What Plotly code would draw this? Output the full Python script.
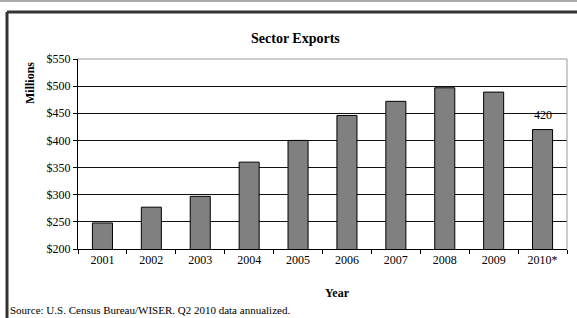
import plotly.graph_objects as go

years = ["2001", "2002", "2003", "2004", "2005", "2006", "2007", "2008", "2009", "2010*"]
exports = [248, 277, 297, 360, 400, 446, 472, 497, 489, 420]
y_ticks = [200, 250, 300, 350, 400, 450, 500, 550]
y_tick_labels = ["$200", "$250", "$300", "$350", "$400", "$450", "$500", "$550"]

W, H = 577, 318
L, R, T, B = 78, 10, 59, 69
pw, ph = W - L - R, H - T - B

def px(x):
    return (x - L) / pw

def py(y):
    return (H - B - y) / ph

FONT = "Liberation Serif, Times New Roman, serif"

fig = go.Figure()
fig.add_trace(go.Bar(
    x=years, y=exports,
    marker=dict(color="#808080", line=dict(color="#000000", width=1)),
    width=0.41,
    hoverinfo="x+y",
))

fig.update_layout(
    width=W, height=H,
    margin=dict(l=L, r=R, t=T, b=B),
    paper_bgcolor="white", plot_bgcolor="white",
    font=dict(family=FONT, size=12, color="#000"),
    showlegend=False,
    bargap=0.59,
    xaxis=dict(
        type="category",
        showgrid=False,
        showline=True, linecolor="#000", linewidth=1,
        ticks="outside", tickson="boundaries", ticklen=4, tickcolor="#000",
        tickfont=dict(family=FONT, size=12),
    ),
    yaxis=dict(
        range=[200, 550],
        tickvals=y_ticks, ticktext=y_tick_labels,
        showgrid=True, gridcolor="#111", gridwidth=1,
        showline=True, linecolor="#000", linewidth=1,
        ticks="outside", ticklen=4, tickcolor="#000",
        tickfont=dict(family=FONT, size=12),
        zeroline=False,
    ),
    shapes=[
        dict(type="line", xref="paper", yref="paper", x0=px(0), x1=px(W), y0=py(1), y1=py(1),
             line=dict(color="#aaaaaa", width=2)),
        dict(type="line", xref="paper", yref="paper", x0=px(7), x1=px(W), y0=py(12), y1=py(12),
             line=dict(color="#333333", width=3)),
        dict(type="line", xref="paper", yref="paper", x0=px(7), x1=px(7), y0=py(12), y1=py(H),
             line=dict(color="#333333", width=3)),
        dict(type="line", xref="paper", yref="paper", x0=0, x1=1, y0=1, y1=1,
             line=dict(color="#999999", width=1), layer="above"),
        dict(type="line", xref="paper", yref="paper", x0=1, x1=1, y0=0, y1=1,
             line=dict(color="#999999", width=1), layer="above"),
    ],
    annotations=[
        dict(text="<b>Sector Exports</b>", xref="paper", yref="paper", x=px(295), y=py(38),
             showarrow=False, font=dict(family=FONT, size=14), xanchor="center", yanchor="middle"),
        dict(text="<b>Millions</b>", xref="paper", yref="paper", x=px(30), y=py(83),
             showarrow=False, textangle=-90, font=dict(family=FONT, size=12),
             xanchor="center", yanchor="middle"),
        dict(text="<b>Year</b>", xref="paper", yref="paper", x=px(337), y=py(293),
             showarrow=False, font=dict(family=FONT, size=12), xanchor="center", yanchor="middle"),
        dict(text="Source: U.S. Census Bureau/WISER. Q2 2010 data annualized.", xref="paper", yref="paper",
             x=px(8), y=py(310), showarrow=False, font=dict(family=FONT, size=11),
             xanchor="left", yanchor="middle"),
        dict(text=str(exports[-1]), x=years[-1], y=exports[-1], xref="x", yref="y",
             showarrow=False, yanchor="bottom", yshift=6, font=dict(family=FONT, size=12)),
    ],
)

fig.write_html("out.html", config={"displayModeBar": False},
               post_script="document.body.style.margin='0';document.body.style.overflow='hidden';")
